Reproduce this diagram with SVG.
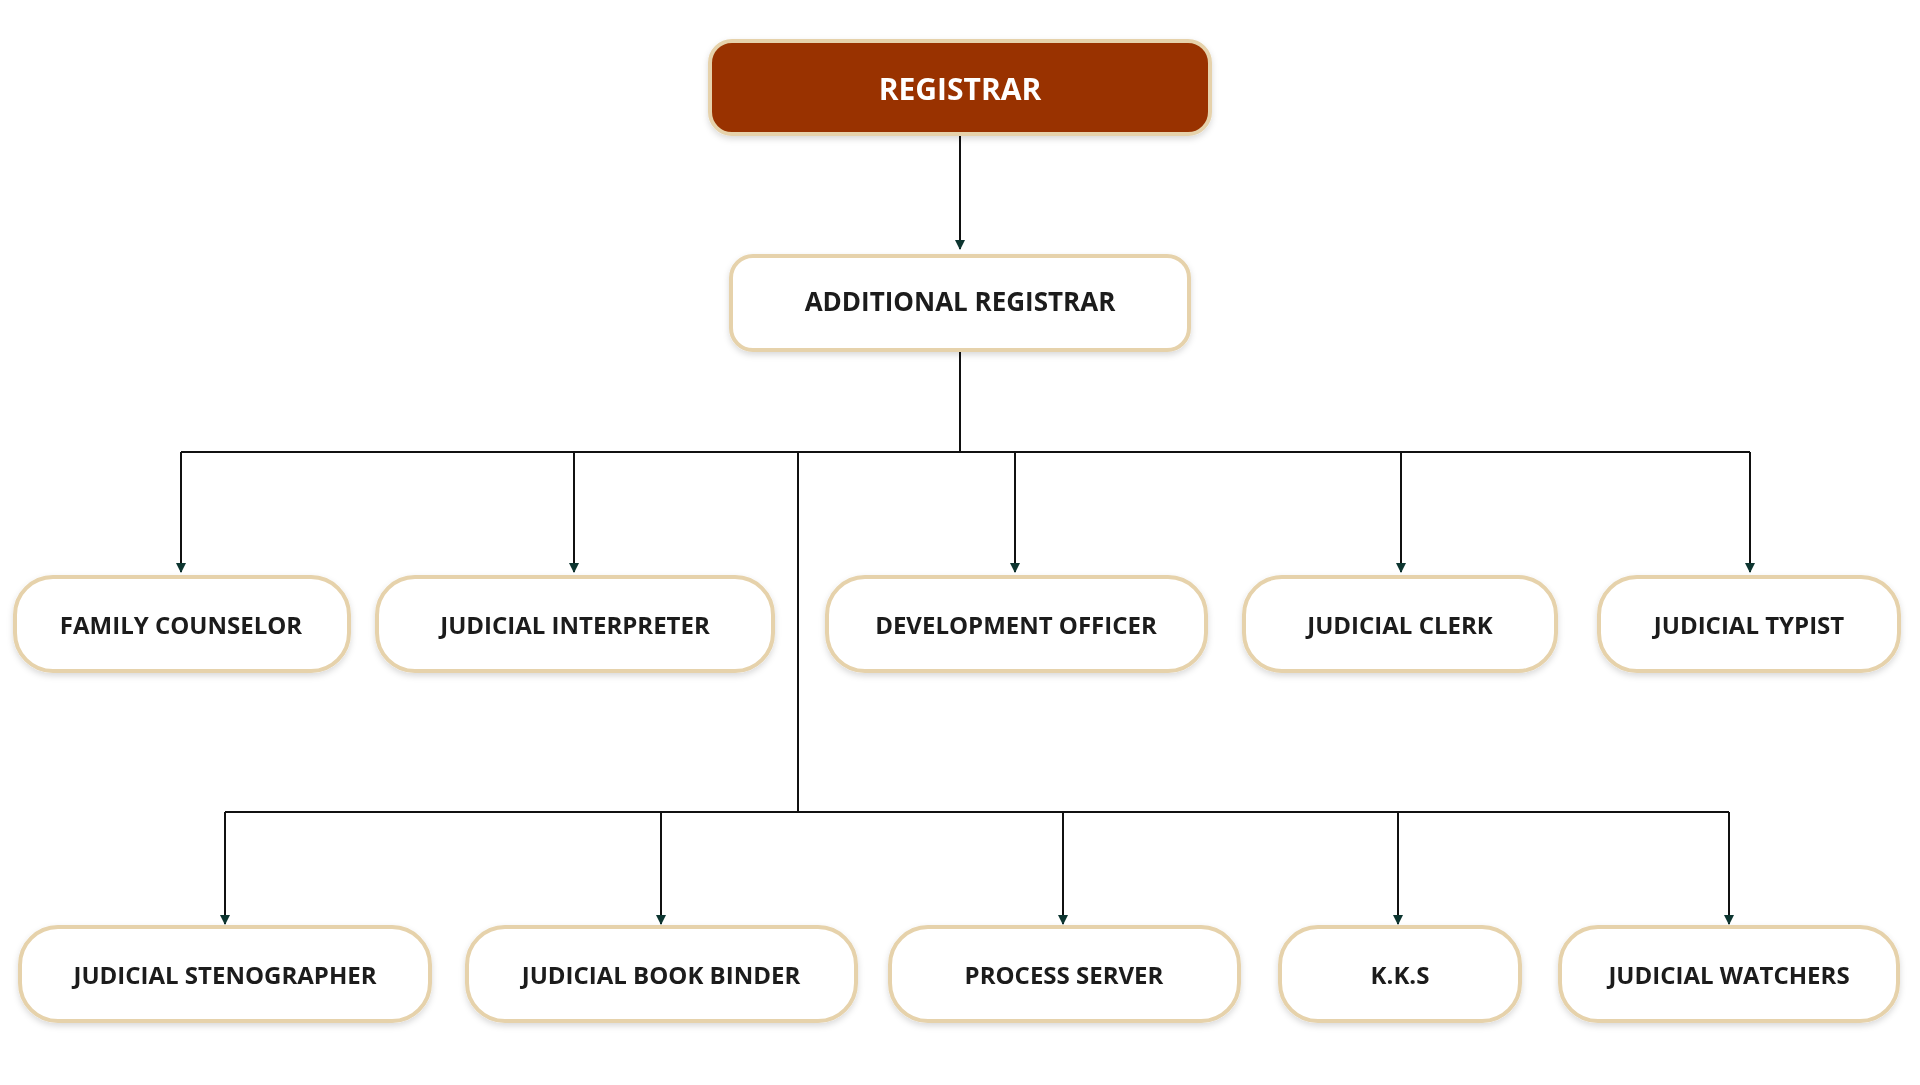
<svg xmlns="http://www.w3.org/2000/svg" width="1920" height="1085" viewBox="0 0 1920 1085">
<style>
.b{fill:#fff;stroke:#e6d2ab;stroke-width:4}
.t{font-family:"Open Sans","Liberation Sans",sans-serif;font-weight:700;font-size:24px;fill:#1a1a1a;text-anchor:middle;dominant-baseline:central}
.c{fill:none;stroke:#111;stroke-width:2}
</style>
<defs><marker id="a" markerWidth="10" markerHeight="10" refX="9" refY="5" orient="auto" markerUnits="userSpaceOnUse" viewBox="0 0 10 10"><path d="M0,0L10,5L0,10z" fill="#0d3530"/></marker>
<filter id="s" x="-10%" y="-20%" width="120%" height="150%"><feDropShadow dx="0" dy="3" stdDeviation="3" flood-color="#000" flood-opacity="0.15"/></filter></defs>
<rect width="1920" height="1085" fill="#fff"/>
<g id="connectors" class="c">
<path d="M960,135V249" marker-end="url(#a)"/>
<path d="M960,351V452M181,452H1750"/>
<path d="M181,452V572" marker-end="url(#a)"/>
<path d="M574,452V572" marker-end="url(#a)"/>
<path d="M1015,452V572" marker-end="url(#a)"/>
<path d="M1401,452V572" marker-end="url(#a)"/>
<path d="M1750,452V572" marker-end="url(#a)"/>
<path d="M798,452V812M225,812H1729"/>
<path d="M225,812V924" marker-end="url(#a)"/>
<path d="M661,812V924" marker-end="url(#a)"/>
<path d="M1063,812V924" marker-end="url(#a)"/>
<path d="M1398,812V924" marker-end="url(#a)"/>
<path d="M1729,812V924" marker-end="url(#a)"/>
</g>
<g id="registrar" filter="url(#s)"><rect x="710" y="41" width="500" height="93" rx="22" fill="#993300" stroke="#e6d2ab" stroke-width="4"/><text class="t" x="960" y="88" style="fill:#fff;font-size:30px">REGISTRAR</text></g>
<g id="additional" filter="url(#s)"><rect class="b" x="731" y="256" width="458" height="94" rx="22"/><text class="t" x="960" y="301" style="font-size:26px">ADDITIONAL REGISTRAR</text></g>
<g id="family" filter="url(#s)"><rect class="b" x="15" y="577" width="334" height="94" rx="38"/><text class="t" x="181" y="624">FAMILY COUNSELOR</text></g>
<g id="interpreter" filter="url(#s)"><rect class="b" x="377" y="577" width="396" height="94" rx="38"/><text class="t" x="575" y="624">JUDICIAL INTERPRETER</text></g>
<g id="development" filter="url(#s)"><rect class="b" x="827" y="577" width="379" height="94" rx="38"/><text class="t" x="1016" y="624">DEVELOPMENT OFFICER</text></g>
<g id="clerk" filter="url(#s)"><rect class="b" x="1244" y="577" width="312" height="94" rx="38"/><text class="t" x="1400" y="624">JUDICIAL CLERK</text></g>
<g id="typist" filter="url(#s)"><rect class="b" x="1599" y="577" width="300" height="94" rx="38"/><text class="t" x="1749" y="624">JUDICIAL TYPIST</text></g>
<g id="steno" filter="url(#s)"><rect class="b" x="20" y="927" width="410" height="94" rx="38"/><text class="t" x="225" y="974">JUDICIAL STENOGRAPHER</text></g>
<g id="binder" filter="url(#s)"><rect class="b" x="467" y="927" width="389" height="94" rx="38"/><text class="t" x="661" y="974">JUDICIAL BOOK BINDER</text></g>
<g id="process" filter="url(#s)"><rect class="b" x="890" y="927" width="349" height="94" rx="38"/><text class="t" x="1064" y="974">PROCESS SERVER</text></g>
<g id="kks" filter="url(#s)"><rect class="b" x="1280" y="927" width="240" height="94" rx="38"/><text class="t" x="1400" y="974">K.K.S</text></g>
<g id="watchers" filter="url(#s)"><rect class="b" x="1560" y="927" width="338" height="94" rx="38"/><text class="t" x="1729" y="974">JUDICIAL WATCHERS</text></g>
</svg>
